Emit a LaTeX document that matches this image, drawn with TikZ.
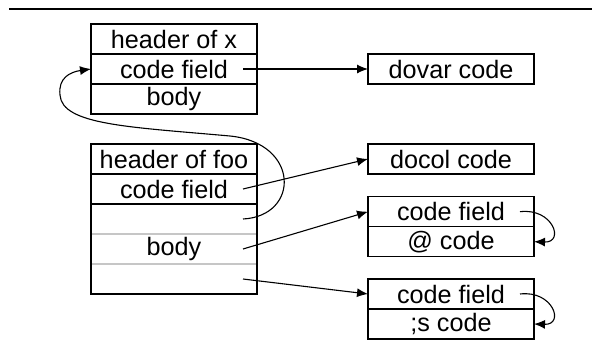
\documentclass[tikz,border=0pt]{standalone}
\usepackage{fontspec}
\setmainfont{Liberation Sans}
\usetikzlibrary{positioning,arrows.meta}

\tikzset{
    cell/.style={draw, line width=0.75pt, minimum width=83pt, minimum height=15pt,
        inner sep=0pt, outer sep=0pt, font=\fontsize{12.6}{14}\selectfont},
    slot/.style={cell, draw=none},
    ptr/.style={-{Latex[length=5.5pt,width=4.5pt]}, line width=0.55pt},
}

\begin{document}
\begin{tikzpicture}[x=0.5pt, y=-0.5pt]
        \useasboundingbox (0,0) rectangle (592,354);
        \draw[line width=1pt] (9,9) -- (592,9);

        % word x
        \node[cell] (hdrx) at (174,39) {header of x};
        \node[cell, below=0pt of hdrx] (cfx) {code field};
        \node[cell, below=0pt of cfx] (bodyx) {body};

        % word foo, body split in three slots
        \node[cell] (hdrfoo) at (174,159) {header of foo};
        \node[cell, below=0pt of hdrfoo] (cffoo) {code field};
        \node[slot, below=0pt of cffoo] (slot1) {};
        \node[slot, below=0pt of slot1] (slot2) {body};
        \node[slot, below=0pt of slot2] (slot3) {};
        \draw[gray!45, line width=0.75pt] (slot1.south west) -- (slot1.south east);
        \draw[gray!45, line width=0.75pt] (slot2.south west) -- (slot2.south east);
        \draw[line width=0.75pt] (slot1.north west) rectangle (slot3.south east);

        % code
        \node[cell] (dovar) at (451,69) {dovar code};
        \node[cell] (docol) at (451,159) {docol code};
        \node[cell] (cffetch) at (451,211.7) {code field};
        \node[cell, below=0pt of cffetch] (fetch) {@ code};
        \node[cell] (cfsemi) at (451,294) {code field};
        \node[cell, below=0pt of cfsemi] (semi) {;s code};

        \draw[ptr] ([xshift=-7pt]cfx.east) -- (dovar.west);
        \draw[ptr] ([xshift=-7pt]cffoo.east) -- (docol.west);
        \draw[ptr] ([xshift=-7pt]slot2.east) -- (cffetch.west);
        \draw[ptr] ([xshift=-7pt]slot3.east) -- (cfsemi.west);

        \draw[ptr] ([xshift=-7pt]slot1.east) .. controls +(57,-3) and +(70,7) .. (230,136)
            .. controls +(-100,-9) and +(2,30) .. (60,95)
            .. controls +(-2,-17) and +(-21,3) .. (cfx.west);

        \draw[ptr] ([xshift=-7pt]cffetch.east) .. controls +(33,-4) and +(31,1) .. (fetch.east);
        \draw[ptr] ([xshift=-7pt]cfsemi.east) .. controls +(33,-4) and +(31,1) .. (semi.east);
    \end{tikzpicture}
\end{document}
